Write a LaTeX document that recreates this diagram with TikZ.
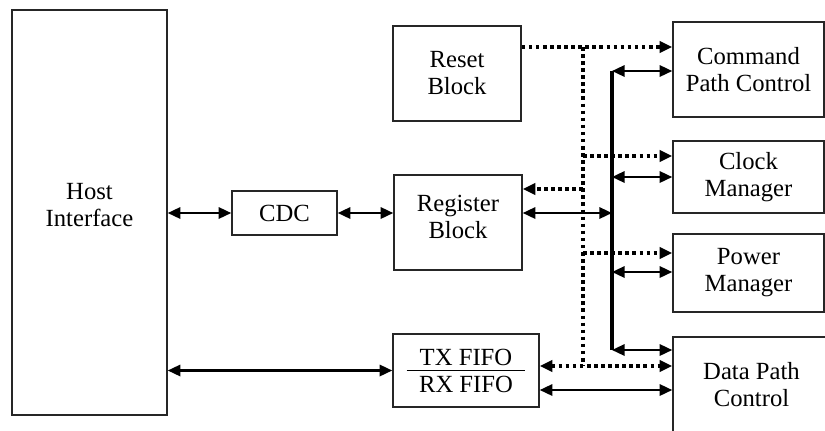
\documentclass[tikz,border=0pt]{standalone}
\usepackage{fontspec}
\setmainfont{Liberation Serif}
\usetikzlibrary{arrows.meta}

\begin{document}
\begin{tikzpicture}[x=0.75pt, y=-0.75pt,
  font=\fontsize{18.5}{20.3}\selectfont,
  box/.style={draw=black!85, line width=1.1pt, align=center, inner sep=0pt},
  arr/.style={<->, >={Triangle[length=9.5pt,width=8.5pt]}, line width=1.7pt},
  bus/.style={line width=2.4pt},
  dots/.style={line width=2.7pt, dash pattern=on 2.7pt off 2.6pt},
  dotarr/.style={dots, -{Triangle[length=9.5pt,width=8.5pt]}}]
  \useasboundingbox (0,0) rectangle (825,430);
  \clip (0,0) rectangle (825,430);
  % blocks, placed at pixel coordinates
  \node[box, minimum width=116.25pt, minimum height=303.75pt,
    label={[align=center, yshift=5.6pt]center:Host\\Interface}] (host) at (89.5,212.5) {};
  \node[box, minimum width=78.75pt,  minimum height=33pt]     (cdc)   at (284.5,213)  {CDC};
  \node[box, minimum width=96pt,     minimum height=71.25pt] (reset) at (457,73.5)   {Reset\\Block};
  \node[box, minimum width=96pt,     minimum height=71.25pt,
    label={[align=center, yshift=4.5pt]center:Register\\Block}] (reg) at (458,222.5) {};
  \node[box, minimum width=109.5pt,  minimum height=54.75pt] (fifo)  at (466,370.5)  {TX FIFO\\RX FIFO};
  \node[box, minimum width=113.25pt, minimum height=71.25pt] (cmd)   at (748.5,69.5) {Command\\Path Control};
  \node[box, minimum width=113.25pt, minimum height=54pt]    (clk)   at (748.5,177)  {Clock\\Manager};
  \node[box, minimum width=113.25pt, minimum height=58.5pt]  (pwr)   at (748.5,273)  {Power\\Manager};
  \node[box, minimum width=117.75pt, minimum height=72pt]    (data)  at (751.5,385)  {Data Path\\Control};
  \draw[line width=1pt] ([xshift=-44.5pt]fifo.center) -- ([xshift=44.5pt]fifo.center);
  % taps on the two buses
  \coordinate (dtop) at (583,47);
  \coordinate (dclk) at (583,156);
  \coordinate (dreg) at (583,189);
  \coordinate (dpwr) at (583,253);
  \coordinate (dbot) at (583,366);
  \coordinate (stop) at (612,71);
  \coordinate (sclk) at (612,177);
  \coordinate (sreg) at (612,213);
  \coordinate (spwr) at (612,272);
  \coordinate (sbot) at (612,350);
  \coordinate (fdat) at (612,390);
  % host side
  \draw[arr] (cdc.west -| host.east) -- (cdc.west);
  \draw[arr] (cdc.east) -- (cdc.east -| reg.west);
  \draw[arr] (fifo.west -| host.east) -- (fifo.west);
  % dotted bus
  \draw[dotarr] (reset.east |- dtop) -- (cmd.west |- dtop);
  \draw[dots] (dtop) -- (dbot);
  \draw[dotarr] (dclk) -- (clk.west |- dclk);
  \draw[dotarr] (dreg) -- (reg.east |- dreg);
  \draw[dotarr] (dpwr) -- (pwr.west |- dpwr);
  \draw[arr, dots] (fifo.east |- dbot) -- (data.west |- dbot);
  % solid bus
  \draw[bus] (stop) -- (sbot);
  \draw[arr] (stop) -- (cmd.west |- stop);
  \draw[arr] (sclk) -- (clk.west |- sclk);
  \draw[arr] (reg.east |- sreg) -- (sreg);
  \draw[arr] (spwr) -- (pwr.west |- spwr);
  \draw[arr] (sbot) -- (data.west |- sbot);
  \draw[arr] (fifo.east |- fdat) -- (data.west |- fdat);
\end{tikzpicture}
\end{document}
